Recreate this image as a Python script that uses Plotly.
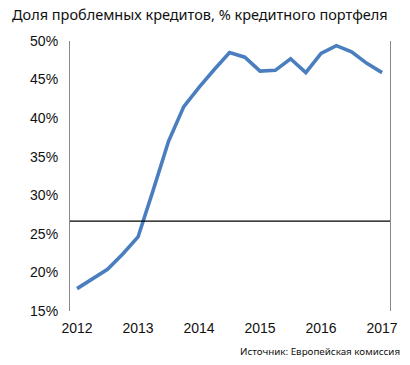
import plotly.graph_objects as go

# Quarterly observations, 2012Q1 .. 2017Q1
periods = [2012 + i * 0.25 for i in range(21)]
npl_share = [17.9, 19.1, 20.4, 22.4, 24.6, 30.7, 37.0, 41.5, 44.0, 46.3, 48.5,
             47.9, 46.1, 46.2, 47.7, 45.9, 48.4, 49.4, 48.6, 47.1, 45.9]
reference_level = 26.65
year_ticks = [2012, 2013, 2014, 2015, 2016, 2017]
y_ticks = [15, 20, 25, 30, 35, 40, 45, 50]

title_text = "Доля проблемных кредитов, % кредитного портфеля"
source_text = "Источник: Европейская комиссия"

fig = go.Figure()
fig.add_trace(go.Scatter(
    x=periods, y=npl_share, mode="lines",
    line=dict(color="#4a7ebf", width=3.6),
    hoverinfo="skip", showlegend=False,
))
fig.add_hline(y=reference_level, line=dict(color="black", width=1.2))

fig.update_layout(
    width=410, height=365,
    margin=dict(l=70, r=20, t=41, b=54),
    paper_bgcolor="white", plot_bgcolor="white",
    title=dict(text=title_text, xref="container", yref="container",
               x=12 / 410, xanchor="left", y=1 - 15 / 365, yanchor="middle",
               font=dict(family="Noto Sans", size=14.5, color="#111")),
    xaxis=dict(range=[2011.885, 2017.13], tickvals=year_ticks,
               ticktext=[str(v) for v in year_ticks],
               showgrid=False, zeroline=False, showline=False, ticks="",
               ticklabelstandoff=7,
               tickfont=dict(family="Liberation Sans", size=14, color="#111")),
    yaxis=dict(range=[15, 50], tickvals=y_ticks,
               ticktext=[f"{v}%" for v in y_ticks],
               showgrid=False, zeroline=False, showline=True, mirror=True,
               linecolor="#8a8a8a", linewidth=1.2, ticks="",
               ticklabelstandoff=8,
               tickfont=dict(family="Liberation Sans", size=14, color="#111")),
    annotations=[dict(text=source_text, xref="paper", yref="paper",
                      x=1 + 12 / 320, xanchor="right", y=-40 / 270, yanchor="middle",
                      showarrow=False,
                      font=dict(family="Noto Sans", size=9.8, color="#111"))],
)

fig.write_html("out.html", config={"displayModeBar": False},
               post_script="document.body.style.margin='0';")
